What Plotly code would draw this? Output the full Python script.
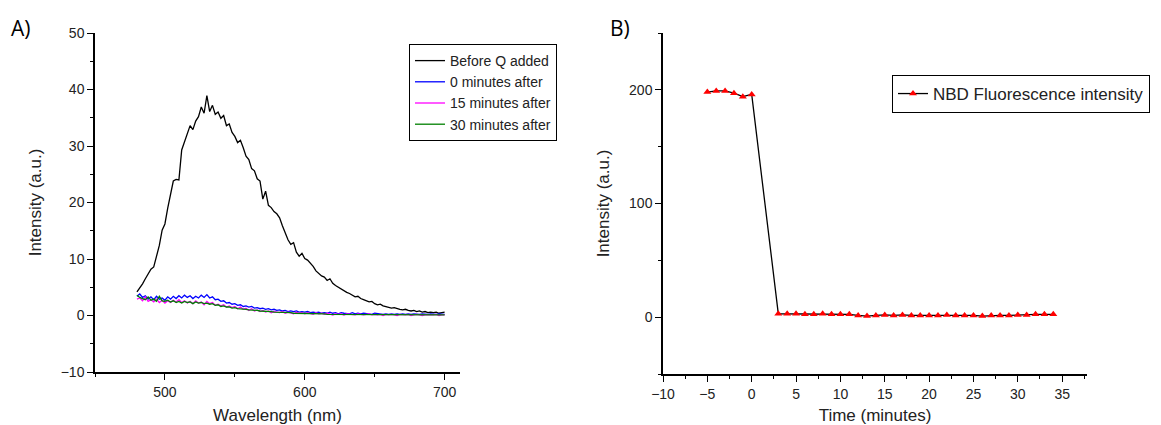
import plotly.graph_objects as go

# ---- panel A : emission spectra (2 nm steps, 480-700 nm) ----
wavelength = list(range(480, 701, 2))

before_q = [4.2, 4.8, 5.6, 6.5, 7.3, 8.2, 8.6, 10.3, 12.4, 15.1,
            16.2, 19.0, 21.6, 23.8, 24.1, 24.0, 29.3, 30.8, 32.2, 33.6,
            32.9, 34.4, 35.2, 36.9, 35.8, 38.9, 36.1, 37.2, 35.6, 36.0,
            34.9, 35.4, 33.6, 33.9, 32.4, 31.7, 30.6, 31.0, 29.7, 28.2,
            27.6, 26.0, 25.6, 24.2, 23.8, 20.6, 22.0, 19.5, 19.1, 18.4,
            18.0, 17.3, 15.9, 14.6, 13.4, 12.6, 12.9, 11.2, 10.5, 11.0,
            10.1, 9.8, 9.3, 8.7, 7.9, 7.4, 7.0, 6.8, 6.2, 6.5,
            5.7, 5.3, 5.0, 4.6, 4.4, 4.1, 3.9, 3.6, 3.3, 3.4,
            3.0, 2.8, 2.6, 2.4, 2.5, 2.1, 1.9, 2.0, 1.7, 1.6,
            1.5, 1.3, 1.4, 1.2, 1.1, 1.0, 1.1, 0.9, 0.8, 0.9,
            0.7, 0.8, 0.6, 0.7, 0.5, 0.6, 0.5, 0.6, 0.4, 0.5,
            0.6]

after_0 = [3.4, 3.8, 3.2, 3.5, 2.9, 3.3, 2.8, 3.4, 2.9, 3.1,
           2.7, 3.3, 2.9, 3.4, 3.0, 3.5, 3.1, 3.6, 3.2, 3.5,
           3.0, 3.4, 3.1, 3.6, 3.2, 3.7, 3.1, 3.3, 2.8, 2.9,
           2.5, 2.6, 2.2, 2.3, 2.0, 2.1, 1.8, 1.9, 1.6, 1.7,
           1.5, 1.6, 1.3, 1.4, 1.2, 1.3, 1.1, 1.2, 1.0, 1.1,
           0.9, 1.0, 0.8, 0.9, 0.7, 0.8, 0.7, 0.8, 0.6, 0.7,
           0.6, 0.7, 0.5, 0.6, 0.5, 0.6, 0.4, 0.5, 0.4, 0.6,
           0.4, 0.5, 0.3, 0.5, 0.4, 0.4, 0.3, 0.5, 0.3, 0.4,
           0.3, 0.4, 0.3, 0.3, 0.2, 0.4, 0.3, 0.3, 0.2, 0.3,
           0.2, 0.3, 0.2, 0.3, 0.2, 0.3, 0.2, 0.3, 0.2, 0.3,
           0.2, 0.2, 0.3, 0.2, 0.2, 0.3, 0.2, 0.2, 0.3, 0.2,
           0.2]

after_15 = [2.9, 3.1, 2.6, 3.3, 2.5, 2.8, 2.4, 2.9, 2.3, 2.7,
            2.2, 2.6, 2.3, 2.7, 2.4, 2.8, 2.3, 2.6, 2.2, 2.5,
            2.1, 2.6, 2.2, 2.4, 1.9, 2.5, 2.1, 2.3, 1.8, 2.0,
            1.7, 1.9, 1.5, 1.7, 1.4, 1.6, 1.2, 1.5, 1.1, 1.3,
            0.9, 1.2, 0.8, 1.0, 0.7, 0.9, 0.6, 0.8, 0.5, 0.7,
            0.6, 0.5, 0.7, 0.4, 0.6, 0.5, 0.3, 0.6, 0.4, 0.5,
            0.3, 0.5, 0.4, 0.2, 0.5, 0.3, 0.4, 0.2, 0.4, 0.3,
            0.1, 0.3, 0.2, 0.3, 0.1, 0.3, 0.2, 0.2, 0.1, 0.3,
            0.2, 0.1, 0.2, 0.3, 0.1, 0.2, 0.1, 0.2, 0.0, 0.2,
            0.1, 0.2, 0.1, 0.0, 0.2, 0.1, 0.1, 0.2, 0.0, 0.1,
            0.2, 0.1, 0.0, 0.1, 0.1, 0.0, 0.1, 0.2, 0.0, 0.1,
            0.1]

after_30 = [3.6, 3.2, 3.0, 2.8, 3.3, 2.7, 2.9, 2.5, 3.4, 2.6,
            2.5, 2.7, 2.4, 2.6, 2.3, 2.5, 2.2, 2.5, 2.3, 2.4,
            2.1, 2.4, 2.2, 2.3, 2.1, 2.2, 2.0, 2.1, 1.8, 1.9,
            1.6, 1.7, 1.5, 1.5, 1.3, 1.4, 1.2, 1.2, 1.1, 1.1,
            1.0, 1.0, 0.9, 0.9, 0.8, 0.8, 0.7, 0.7, 0.7, 0.6,
            0.6, 0.6, 0.5, 0.5, 0.5, 0.5, 0.4, 0.4, 0.4, 0.4,
            0.4, 0.3, 0.3, 0.3, 0.3, 0.3, 0.3, 0.3, 0.2, 0.2,
            0.2, 0.2, 0.2, 0.2, 0.2, 0.2, 0.2, 0.2, 0.2, 0.2,
            0.1, 0.2, 0.1, 0.2, 0.1, 0.1, 0.1, 0.2, 0.1, 0.1,
            0.1, 0.1, 0.1, 0.1, 0.1, 0.1, 0.1, 0.1, 0.1, 0.1,
            0.1, 0.1, 0.1, 0.1, 0.1, 0.1, 0.1, 0.1, 0.1, 0.1,
            0.1]

spectra = [("Before Q added", before_q, "#000000"),
           ("0 minutes after", after_0, "#0000FF"),
           ("15 minutes after", after_15, "#FF00FF"),
           ("30 minutes after", after_30, "#008000")]

# ---- panel B : NBD fluorescence vs time ----
time_min = [-5, -4, -3, -2, -1, 0,
            3, 4, 5, 6, 7, 8, 9, 10, 11, 12, 13, 14, 15, 16, 17, 18,
            19, 20, 21, 22, 23, 24, 25, 26, 27, 28, 29, 30, 31, 32, 33, 34]
nbd_intensity = [198, 199, 199, 197, 194, 196,
                 3, 3, 3, 2.5, 2.5, 3, 2.5, 2.5, 2.5, 1.5, 1, 1.5, 2, 1.5, 2, 1.5,
                 1.5, 1.5, 1.5, 2, 1.5, 1.5, 1.5, 1, 1.5, 1.5, 1.5, 2, 2, 2.5, 2.5, 2.5]

FONT = "Liberation Sans, Arial, sans-serif"

# page body has an 8px margin, so the figure is a bit smaller than the window
W, H, OFF = 1153, 417, 8


def px_x(p):
    return (p - OFF) / W


def px_y(p):
    return 1 - (p - OFF) / H


fig = go.Figure()

for name, vals, col in spectra:
    fig.add_trace(go.Scatter(x=wavelength, y=vals, mode="lines", name=name,
                             line=dict(color=col, width=1.3),
                             xaxis="x", yaxis="y", legend="legend"))

fig.add_trace(go.Scatter(x=time_min, y=nbd_intensity, mode="lines+markers",
                         name="NBD Fluorescence intensity",
                         line=dict(color="black", width=1.3),
                         marker=dict(symbol="triangle-up", color="#FF0000", size=7),
                         xaxis="x2", yaxis="y2", legend="legend2"))

axis_common = dict(showline=True, linecolor="black", linewidth=1.5,
                   ticks="outside", ticklen=6, tickwidth=1.3, tickcolor="black",
                   showgrid=False, zeroline=False, automargin=False,
                   tickfont=dict(family=FONT, size=14, color="#222"),
                   title_font=dict(family=FONT, size=17, color="#222"))

fig.update_layout(
    width=W, height=H,
    margin=dict(l=0, r=0, t=0, b=0, autoexpand=False),
    paper_bgcolor="white", plot_bgcolor="white",
    xaxis=dict(domain=[px_x(95), px_x(460)], anchor="y", range=[450, 711],
               tick0=0, dtick=100,
               minor=dict(dtick=50, tick0=0, ticks="outside", ticklen=3, tickcolor="black"),
               title=dict(text="Wavelength (nm)"), **axis_common),
    yaxis=dict(domain=[px_y(372), px_y(33)], anchor="x", range=[-10, 50],
               tick0=0, dtick=10,
               minor=dict(dtick=5, tick0=0, ticks="outside", ticklen=3, tickcolor="black"),
               title=dict(text="Intensity (a.u.)"), **axis_common),
    xaxis2=dict(domain=[px_x(663), px_x(1087)], anchor="y2", range=[-10, 37.8],
                tick0=0, dtick=5,
                minor=dict(dtick=2.5, tick0=0, ticks="outside", ticklen=3, tickcolor="black"),
                title=dict(text="Time (minutes)"), **axis_common),
    yaxis2=dict(domain=[px_y(374), px_y(33)], anchor="x2", range=[-50, 250],
                tick0=0, dtick=100,
                minor=dict(dtick=50, tick0=0, ticks="outside", ticklen=3, tickcolor="black"),
                title=dict(text="Intensity (a.u.)"), **axis_common),
    legend=dict(x=px_x(409), y=px_y(44), xanchor="left", yanchor="top",
                bordercolor="black", borderwidth=1, bgcolor="white",
                font=dict(family=FONT, size=14, color="#222"),
                tracegroupgap=0),
    legend2=dict(x=px_x(892), y=px_y(75), xanchor="left", yanchor="top",
                 bordercolor="black", borderwidth=1, bgcolor="white",
                 font=dict(family=FONT, size=17, color="#222")),
    annotations=[
        dict(text="A)", x=px_x(9), y=px_y(28), xref="paper", yref="paper",
             xanchor="left", yanchor="middle", showarrow=False,
             font=dict(family="Open Sans, sans-serif", size=21, color="black")),
        dict(text="B)", x=px_x(608), y=px_y(28), xref="paper", yref="paper",
             xanchor="left", yanchor="middle", showarrow=False,
             font=dict(family="Open Sans, sans-serif", size=21, color="black")),
    ],
)

fig.write_html("out.html")
